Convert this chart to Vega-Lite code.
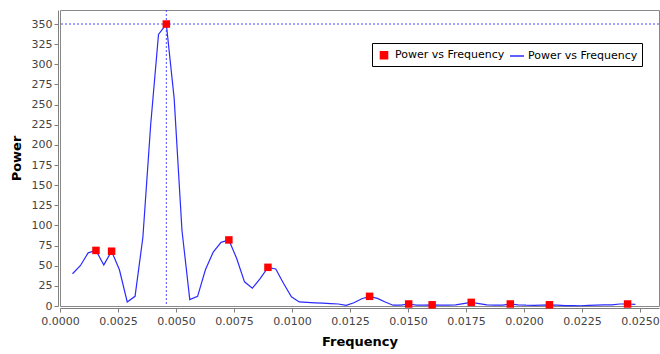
{
  "$schema": "https://vega.github.io/schema/vega-lite/v6.json",
  "width": 599,
  "height": 296,
  "autosize": "none",
  "padding": {"left": 60, "top": 10, "right": 1, "bottom": 48},
  "background": "white",
  "config": {
    "view": {"stroke": "#888888", "strokeWidth": 1},
    "font": "DejaVu Sans",
    "axis": {
      "labelFont": "DejaVu Sans",
      "labelFontSize": 11,
      "labelColor": "#444444",
      "labelFlush": false,
      "titleFont": "DejaVu Sans",
      "titleFontSize": 13,
      "titleFontWeight": "bold",
      "titleColor": "#000000",
      "domainColor": "#808080",
      "tickColor": "#808080",
      "tickSize": 4,
      "grid": false,
      "offset": 2
    }
  },
  "datasets": {
    "spectrum": [
      {"frequency": 0.000539, "power": 40},
      {"frequency": 0.000876, "power": 50},
      {"frequency": 0.001213, "power": 66},
      {"frequency": 0.00155, "power": 69},
      {"frequency": 0.001887, "power": 51},
      {"frequency": 0.002224, "power": 68},
      {"frequency": 0.002561, "power": 45},
      {"frequency": 0.002898, "power": 5},
      {"frequency": 0.003235, "power": 12},
      {"frequency": 0.003572, "power": 85},
      {"frequency": 0.003909, "power": 225},
      {"frequency": 0.004246, "power": 337},
      {"frequency": 0.004583, "power": 350},
      {"frequency": 0.00492, "power": 258},
      {"frequency": 0.005257, "power": 94},
      {"frequency": 0.005594, "power": 8},
      {"frequency": 0.005931, "power": 12},
      {"frequency": 0.006268, "power": 45},
      {"frequency": 0.006605, "power": 67},
      {"frequency": 0.006942, "power": 79},
      {"frequency": 0.007279, "power": 82},
      {"frequency": 0.007616, "power": 59},
      {"frequency": 0.007953, "power": 30},
      {"frequency": 0.00829, "power": 22},
      {"frequency": 0.008627, "power": 34},
      {"frequency": 0.008964, "power": 48},
      {"frequency": 0.009301, "power": 46},
      {"frequency": 0.009638, "power": 28},
      {"frequency": 0.009975, "power": 11.5},
      {"frequency": 0.010312, "power": 5},
      {"frequency": 0.010649, "power": 4.5},
      {"frequency": 0.010986, "power": 4},
      {"frequency": 0.011323, "power": 3.5},
      {"frequency": 0.01166, "power": 3},
      {"frequency": 0.011997, "power": 2.5},
      {"frequency": 0.012334, "power": 0.8},
      {"frequency": 0.012671, "power": 4},
      {"frequency": 0.013008, "power": 9},
      {"frequency": 0.013345, "power": 12},
      {"frequency": 0.013682, "power": 9.5},
      {"frequency": 0.014019, "power": 5},
      {"frequency": 0.014356, "power": 1},
      {"frequency": 0.014693, "power": 1},
      {"frequency": 0.01503, "power": 2.5},
      {"frequency": 0.015367, "power": 1},
      {"frequency": 0.015704, "power": 1},
      {"frequency": 0.016041, "power": 1.5},
      {"frequency": 0.016378, "power": 1},
      {"frequency": 0.016715, "power": 1},
      {"frequency": 0.017052, "power": 1.5},
      {"frequency": 0.017389, "power": 3},
      {"frequency": 0.017726, "power": 4.5},
      {"frequency": 0.018063, "power": 3},
      {"frequency": 0.0184, "power": 1.5},
      {"frequency": 0.018737, "power": 1},
      {"frequency": 0.019074, "power": 1},
      {"frequency": 0.019411, "power": 2.5},
      {"frequency": 0.019748, "power": 1.5},
      {"frequency": 0.020085, "power": 1},
      {"frequency": 0.020422, "power": 0.8},
      {"frequency": 0.020759, "power": 1.2},
      {"frequency": 0.021096, "power": 1.5},
      {"frequency": 0.021433, "power": 1},
      {"frequency": 0.02177, "power": 0.5},
      {"frequency": 0.022107, "power": 0.5},
      {"frequency": 0.022444, "power": 0.3},
      {"frequency": 0.022781, "power": 0.8},
      {"frequency": 0.023118, "power": 1.2},
      {"frequency": 0.023455, "power": 1.3},
      {"frequency": 0.023792, "power": 1.5},
      {"frequency": 0.024129, "power": 2.5},
      {"frequency": 0.024466, "power": 2.5},
      {"frequency": 0.024803, "power": 2}
    ],
    "peaks": [
      {"frequency": 0.00155, "power": 69},
      {"frequency": 0.002224, "power": 68},
      {"frequency": 0.004583, "power": 350},
      {"frequency": 0.007279, "power": 82},
      {"frequency": 0.008964, "power": 48},
      {"frequency": 0.013345, "power": 12},
      {"frequency": 0.01503, "power": 2.5},
      {"frequency": 0.016041, "power": 1.5},
      {"frequency": 0.017726, "power": 4.5},
      {"frequency": 0.019411, "power": 2.5},
      {"frequency": 0.021096, "power": 1.5},
      {"frequency": 0.024466, "power": 2.5}
    ],
    "crosshair": [
      {"frequency": 0.004583, "power": 350}
    ]
  },
  "encoding": {
    "x": {
      "field": "frequency",
      "type": "quantitative",
      "title": "Frequency",
      "scale": {"domain": [0, 0.02582], "nice": false, "zero": false},
      "axis": {"values": [0, 0.0025, 0.005, 0.0075, 0.01, 0.0125, 0.015, 0.0175, 0.02, 0.0225, 0.025], "format": ".4f", "labelPadding": 3, "titlePadding": 9}
    },
    "y": {
      "field": "power",
      "type": "quantitative",
      "title": "Power",
      "scale": {"domain": [0, 367.4], "nice": false},
      "axis": {"values": [0, 25, 50, 75, 100, 125, 150, 175, 200, 225, 250, 275, 300, 325, 350], "labelPadding": 2, "titlePadding": 8}
    }
  },
  "layer": [
    {
      "data": {"name": "crosshair"},
      "mark": {"type": "rule", "color": "#4a4aff", "strokeDash": [2, 2], "strokeWidth": 1},
      "encoding": {"y": null}
    },
    {
      "data": {"name": "crosshair"},
      "mark": {"type": "rule", "color": "#4a4aff", "strokeDash": [2, 2], "strokeWidth": 1},
      "encoding": {"x": null}
    },
    {
      "data": {"name": "spectrum"},
      "mark": {"type": "line", "strokeWidth": 1.2, "interpolate": "linear"},
      "encoding": {
        "color": {
          "datum": "spectrum",
          "type": "nominal",
          "scale": {"domain": ["peak", "spectrum"], "range": ["#ff0000", "#2b2bff"]},
          "legend": {
            "title": null,
            "orient": "none",
            "legendX": 312,
            "legendY": 33,
            "direction": "horizontal",
            "labelExpr": "'Power vs Frequency'",
            "labelFont": "DejaVu Sans",
            "labelFontSize": 11,
            "labelColor": "#000000",
            "strokeColor": "#000000",
            "fillColor": "#ffffff",
            "padding": 4,
            "columnPadding": 2,
            "labelOffset": 3,
            "encoding": {
              "symbols": {
                "shape": {"value": {"expr": "datum.value === 'peak' ? 'square' : 'stroke'"}},
                "size": {"value": {"expr": "datum.value === 'peak' ? 50 : 196"}},
                "fill": {"value": {"expr": "datum.value === 'peak' ? '#ff0000' : 'transparent'"}},
                "stroke": {"value": {"expr": "datum.value === 'peak' ? 'transparent' : '#2b2bff'"}},
                "strokeWidth": {"value": 1.5},
                "opacity": {"value": 1}
              }
            }
          }
        }
      }
    },
    {
      "data": {"name": "peaks"},
      "mark": {"type": "point", "shape": "square", "filled": true, "size": 56, "opacity": 1},
      "encoding": {
        "color": {"datum": "peak", "type": "nominal"}
      }
    }
  ]
}
